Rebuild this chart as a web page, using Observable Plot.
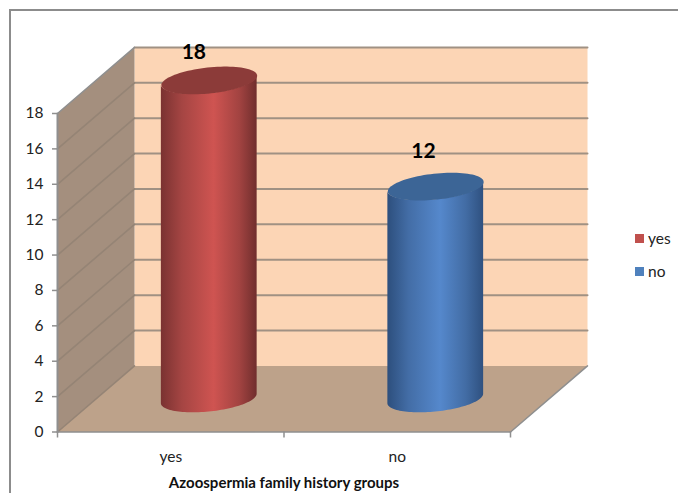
<!DOCTYPE html>
<html>
<head>
<meta charset="utf-8">
<script src="https://cdn.jsdelivr.net/npm/d3@7"></script>
<script src="https://cdn.jsdelivr.net/npm/@observablehq/plot@0.6"></script>
<style>
  html, body { margin: 0; padding: 0; background: #fff; }
  #chart { position: relative; width: 678px; height: 493px; overflow: hidden; font-family: Lato, sans-serif; }
  #chart svg { display: block; position: absolute; left: 0; top: 0; }
  #frame { position: absolute; left: 9px; top: 9px; width: 700px; height: 520px; border: 2px solid #8c8c8c; box-sizing: border-box; }
  .key { position: absolute; left: 635px; font-size: 15.5px; line-height: 18px; color: #222; display: flex; align-items: center; }
  .key i { display: inline-block; width: 9px; height: 9px; margin-right: 4px; }
</style>
</head>
<body>
<div id="chart"><div id="frame"></div></div>
<script>
// Family-history groups and their case counts
const groups = ["yes", "no"];
const counts = [18, 12];
const bodyColors = [
  ["#7a3231", "#a54543", "#cf5451", "#a24341", "#702e2d"],
  ["#2d4f7d", "#436da6", "#5588cc", "#426ca4", "#2f5180"]
];
const stopOffsets = [0, 0.22, 0.55, 0.82, 1];
const capColors = ["#8c3b39", "#3c6596"];
const keyColors = ["#c0504d", "#4f81bd"];
const yTicks = d3.range(0, 19, 2);
const xEdges = [0, 1, 2];
const axisTitle = "Azoospermia family history groups";

// One unit of depth shifts a point this far along the category and value axes
const depthX = 0.34;
const depthY = 3.735;
const project = (cat, val, d) => ({x: cat + d * depthX, y: val + d * depthY});
const polygon = (corners) => [...corners, corners[0]].map(([c, v, d]) => project(c, v, d));
const segment = (a, b) => [a, b].map(([c, v, d]) => project(c, v, d));

const xMax = xEdges[xEdges.length - 1];
const yMax = yTicks[yTicks.length - 1];
const backWall = polygon([[0, 0, 1], [xMax, 0, 1], [xMax, yMax, 1], [0, yMax, 1]]);
const sideWall = polygon([[0, 0, 0], [0, 0, 1], [0, yMax, 1], [0, yMax, 0]]);
const floor = polygon([[0, 0, 0], [xMax, 0, 0], [xMax, 0, 1], [0, 0, 1]]);

// Cylinder geometry: an ellipse lying in the category/depth plane
const radiusCat = 0.199;
const radiusDepth = 0.21;
const mid = 0.5;
const angles = d3.range(0, 361, 4).map((a) => a * Math.PI / 180);
const ring = (cat, val) => angles.map((t) =>
  project(cat + radiusCat * Math.cos(t), val, mid + radiusDepth * Math.sin(t)));

// Visible side of a cylinder: spans from the lower edge of its base to the lower edge of its cap
function side(cat, val) {
  const tilt = Math.atan2(radiusDepth * depthX, radiusCat);
  return d3.range(0, 181, 3).map((a) => {
    const t = Math.PI + tilt + a * Math.PI / 180;
    const base = project(cat + radiusCat * Math.cos(t), 0, mid + radiusDepth * Math.sin(t));
    return {x: base.x, y1: base.y, y2: base.y + val};
  });
}

const grid = "#a09183";
const sideGrid = "#958475";
const edge = "#8f8f8f";
const lineOf = (pts, o) => Plot.line(pts, {x: "x", y: "y", ...o});

const defs = () => {
  const ns = "http://www.w3.org/2000/svg";
  const d = document.createElementNS(ns, "defs");
  bodyColors.forEach((stops, i) => {
    const g = document.createElementNS(ns, "linearGradient");
    g.setAttribute("id", "body" + i);
    stops.forEach((c, k) => {
      const s = document.createElementNS(ns, "stop");
      s.setAttribute("offset", stopOffsets[k]);
      s.setAttribute("stop-color", c);
      g.appendChild(s);
    });
    d.appendChild(g);
  });
  return d;
};

const chart = Plot.plot({
  width: 678,
  height: 493,
  marginLeft: 57,
  marginRight: 168,
  marginTop: 113,
  marginBottom: 61.5,
  style: {background: "transparent", fontFamily: "Lato, sans-serif"},
  x: {type: "linear", domain: [0, xMax]},
  y: {type: "linear", domain: [0, yMax]},
  marks: [
    defs,
    lineOf(backWall, {fill: "#fcd5b5", stroke: "none"}),
    lineOf(sideWall, {fill: "#a48f7e", stroke: "none"}),
    lineOf(floor, {fill: "#bda28a", stroke: "none"}),
    // Gridlines run along the back wall and down the side wall
    ...yTicks.filter((v) => v > 0).flatMap((v) => [
      lineOf(segment([0, v, 1], [xMax, v, 1]), {stroke: grid, strokeWidth: 2}),
      lineOf(segment([0, v, 0], [0, v, 1]), {stroke: v === yMax ? edge : sideGrid, strokeWidth: v === yMax ? 1.5 : 1.6})
    ]),
    lineOf(segment([0, 0, 0], [0, 0, 1]), {stroke: sideGrid, strokeWidth: 1.6}),
    lineOf(segment([0, 0, 0], [xMax, 0, 0]), {stroke: edge, strokeWidth: 1.5}),
    lineOf(segment([xMax, 0, 0], [xMax, 0, 1]), {stroke: edge, strokeWidth: 1.5}),
    lineOf(segment([0, 0, 0], [0, yMax, 0]), {stroke: edge, strokeWidth: 2}),
    // Cylinders
    ...groups.flatMap((g, i) => {
      const cat = i + mid;
      return [
        Plot.areaY(side(cat, counts[i]), {x: "x", y1: "y1", y2: "y2", fill: `url(#body${i})`}),
        lineOf(ring(cat, counts[i]), {fill: capColors[i], stroke: "none"})
      ];
    }),
    Plot.axisY({ticks: yTicks, tickSize: 5, tickPadding: 9, fontSize: 15.5, label: null, stroke: edge, strokeWidth: 1.5, color: "#222"}),
    Plot.axisX({ticks: xEdges, tickSize: 6, tickFormat: () => "", label: null, stroke: edge, strokeWidth: 1.5}),
    // Category names and axis title under the floor
    Plot.text(groups, {x: (_, i) => i + mid, y: () => 0, dy: 25, fontSize: 15.5, fill: "#222", text: (d) => d}),
    Plot.text([axisTitle], {x: () => xMax / 2, y: () => 0, dy: 51, fontSize: 15, fontWeight: 700, fill: "#111", text: (d) => d}),
    // Value labels above each cylinder
    Plot.text([counts[0]], {x: () => project(mid, 0, 0.3).x, y: (d) => project(mid, d, 0.3).y, dy: -41, fontSize: 21, fontWeight: 700, fill: "#000", text: (d) => String(d)}),
    Plot.text([counts[1]], {x: () => project(1 + mid, 0, 0.34).x, y: (d) => project(1 + mid, d, 0.34).y, dy: -46, fontSize: 21, fontWeight: 700, fill: "#000", text: (d) => String(d)})
  ]
});

const root = document.getElementById("chart");
root.appendChild(chart);

// Legend to the right of the plot
groups.forEach((g, i) => {
  const key = document.createElement("div");
  key.className = "key";
  key.style.top = (229 + i * 33) + "px";
  const swatch = document.createElement("i");
  swatch.style.background = keyColors[i];
  key.appendChild(swatch);
  key.appendChild(document.createTextNode(g));
  root.appendChild(key);
});
</script>
</body>
</html>
